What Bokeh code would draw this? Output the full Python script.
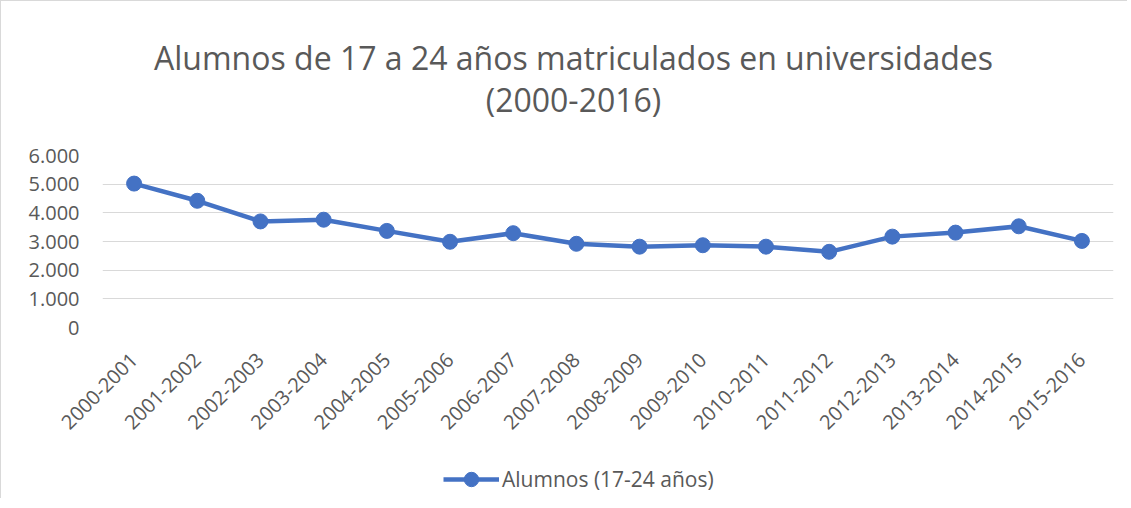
import math
from bokeh.plotting import figure
from bokeh.layouts import column
from bokeh.models import (FactorRange, Range1d, Label, Legend, LegendItem,
                          CustomJSTickFormatter, FixedTicker, ColumnDataSource)
from bokeh.embed import file_html
from bokeh.resources import INLINE

cursos = ["2000-2001", "2001-2002", "2002-2003", "2003-2004", "2004-2005",
          "2005-2006", "2006-2007", "2007-2008", "2008-2009", "2009-2010",
          "2010-2011", "2011-2012", "2012-2013", "2013-2014", "2014-2015",
          "2015-2016"]
alumnos = [5020, 4420, 3700, 3760, 3370, 2990, 3290, 2920, 2820, 2870,
           2820, 2640, 3170, 3310, 3530, 3020]
y_ticks = [0, 1000, 2000, 3000, 4000, 5000, 6000]
serie = "Alumnos (17-24 años)"
titulo = ["Alumnos de 17 a 24 años matriculados en universidades", "(2000-2016)"]

FONT = "Open Sans"
GREY = "#595959"
BLUE = "#4472C4"
BORDER = "1px solid #d9d9d9"


def strip(h, styles):
    f = figure(width=1127, height=h, x_range=Range1d(0, 1), y_range=Range1d(0, 1),
               output_backend="svg", toolbar_location=None,
               x_axis_type=None, y_axis_type=None,
               min_border_left=0, min_border_right=0, min_border_top=0,
               min_border_bottom=0)
    f.outline_line_color = None
    f.grid.grid_line_color = None
    f.styles = styles
    return f


# title strip
p3 = strip(120, {"border-left": BORDER, "border-top": BORDER})
for txt, yy in zip(titulo, [64, 22]):
    p3.add_layout(Label(x=471, y=yy, x_units="screen", y_units="screen", text=txt,
                        text_align="center", text_baseline="middle",
                        text_font=FONT, text_font_size="32px", text_color=GREY))

# main chart
src = ColumnDataSource(dict(x=cursos, y=alumnos))
p = figure(width=1127, height=328,
           x_range=FactorRange(*cursos, range_padding=0),
           y_range=Range1d(0, 6000), output_backend="svg", toolbar_location=None,
           min_border_left=101, min_border_right=15, min_border_top=35,
           min_border_bottom=121)
p.outline_line_color = None
p.background_fill_color = "white"
p.border_fill_color = "white"
p.styles = {"border-left": BORDER}

p.line("x", "y", source=src, line_color=BLUE, line_width=4.5)
p.scatter("x", "y", source=src, size=15, fill_color=BLUE, line_color=BLUE)

p.ygrid.grid_line_color = "#d9d9d9"
p.ygrid.grid_line_width = 1.2
p.xgrid.grid_line_color = None

p.yaxis.ticker = FixedTicker(ticks=y_ticks)
p.yaxis.formatter = CustomJSTickFormatter(code="""
return Math.round(tick).toString().replace(/\\B(?=(\\d{3})+(?!\\d))/g, ".");
""")
for ax in (p.xaxis, p.yaxis):
    ax.axis_line_color = None
    ax.major_tick_line_color = None
    ax.minor_tick_line_color = None
    ax.major_label_text_font = FONT
    ax.major_label_text_font_size = "20px"
    ax.major_label_text_color = GREY
p.yaxis.major_label_standoff = 17
p.xaxis.major_label_orientation = math.pi / 4
p.xaxis.major_label_standoff = 23

# legend strip (renderers hold a point outside the visible range)
p2 = strip(50, {"border-left": BORDER})
hidden = ColumnDataSource(dict(x=[5, 6], y=[5, 5]))
l2 = p2.line("x", "y", source=hidden, line_color=BLUE, line_width=4.5)
s2 = p2.scatter("x", "y", source=hidden, size=15, fill_color=BLUE, line_color=BLUE)
legend = Legend(items=[LegendItem(label=serie, renderers=[l2, s2])],
                orientation="horizontal", location=(341, 1),
                label_text_font=FONT, label_text_font_size="21px",
                label_text_color=GREY, border_line_color=None,
                background_fill_alpha=0,
                glyph_width=56, glyph_height=36, label_standoff=3,
                margin=0, padding=4)
p2.add_layout(legend, "center")

layout = column(p3, p, p2, spacing=0)
open("out.html", "w").write(file_html(layout, INLINE))
